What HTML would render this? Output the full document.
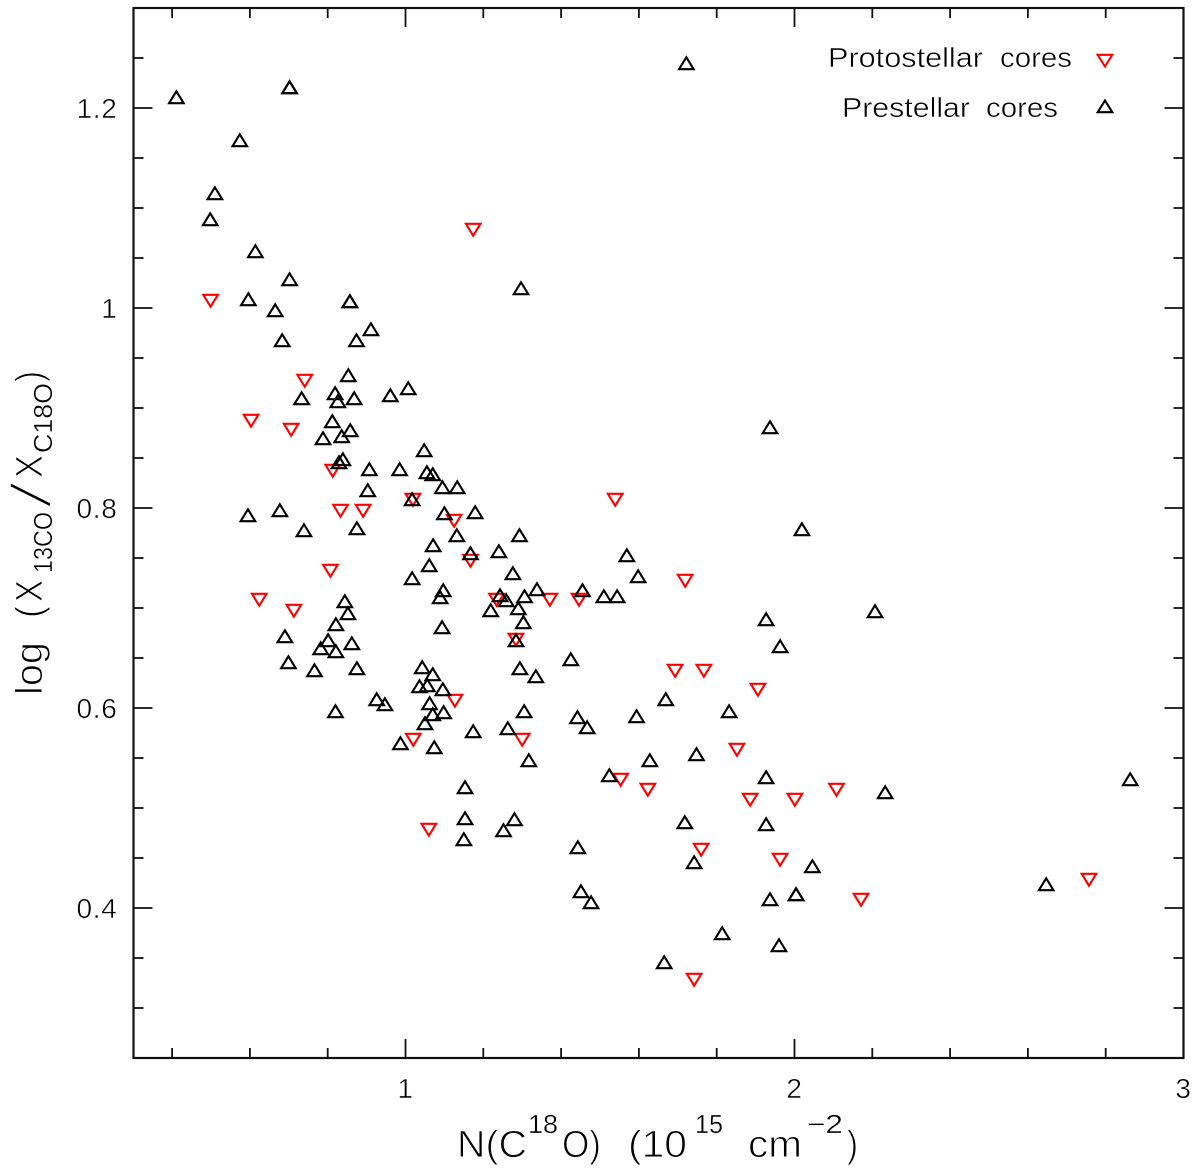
<!DOCTYPE html>
<html lang="en">
<head>
<meta charset="utf-8">
<title>log (X13CO/XC18O) versus N(C18O)</title>
<style>
html,body{margin:0;padding:0;background:#fff;}
svg{display:block;}
text{font-family:"Liberation Sans",sans-serif;fill:#000;stroke:#fff;stroke-width:.5px;paint-order:fill stroke;}
.big text{stroke-width:.95px;}
.big text.small{stroke-width:.35px;}
</style>
</head>
<body>
<svg id="chart" xmlns="http://www.w3.org/2000/svg" width="1200" height="1173" viewBox="0 0 1200 1173">
  <rect x="0" y="0" width="1200" height="1173" fill="#fff"/>
  <g id="ticks"></g>
  <g id="tick-labels"></g>
  <rect x="133.5" y="8" width="1050" height="1050" fill="none" stroke="#111" stroke-width="2.2"/>
  <g id="marks-pro"></g>
  <g id="marks-pre"></g>

  <g class="big" font-size="38">
    <text x="457" y="1157" textLength="70" lengthAdjust="spacingAndGlyphs">N(C</text>
    <text class="small" x="528" y="1133" font-size="26" textLength="30" lengthAdjust="spacingAndGlyphs">18</text>
    <text x="562" y="1157" textLength="39" lengthAdjust="spacingAndGlyphs">O)</text>
    <text x="628" y="1157" textLength="59" lengthAdjust="spacingAndGlyphs">(10</text>
    <text class="small" x="695" y="1133" font-size="26" textLength="28" lengthAdjust="spacingAndGlyphs">15</text>
    <text x="748" y="1157" textLength="54" lengthAdjust="spacingAndGlyphs">cm</text>
    <text class="small" x="807" y="1133" font-size="26" textLength="36" lengthAdjust="spacingAndGlyphs">−2</text>
    <text x="847" y="1157" textLength="11" lengthAdjust="spacingAndGlyphs">)</text>
  </g>

  <g class="big" font-size="38" transform="translate(42,0) rotate(-90)">
    <text x="-695" y="0" textLength="53" lengthAdjust="spacingAndGlyphs">log</text>
    <text x="-618" y="0" textLength="12" lengthAdjust="spacingAndGlyphs">(</text>
    <text x="-602" y="0" textLength="22" lengthAdjust="spacingAndGlyphs">X</text>
    <text class="small" x="-573" y="10" font-size="26" textLength="61" lengthAdjust="spacingAndGlyphs">13CO</text>
    <text font-size="55" style="stroke-width:1.3px" transform="translate(-507,8) skewX(-13)">/</text>
    <text x="-478" y="0" textLength="23" lengthAdjust="spacingAndGlyphs">X</text>
    <text class="small" x="-453" y="10" font-size="26" textLength="70" lengthAdjust="spacingAndGlyphs">C18O</text>
    <text x="-382" y="0" textLength="11" lengthAdjust="spacingAndGlyphs">)</text>
  </g>

  <g font-size="28">
    <g>
      <text x="828" y="67" textLength="155" lengthAdjust="spacingAndGlyphs">Protostellar</text>
      <text x="1000" y="67" textLength="72" lengthAdjust="spacingAndGlyphs">cores</text>
      <polygon points="1097.7,54.8 1112.3,54.8 1105,66.5" fill="none" stroke="#f00" stroke-width="2.1"/>
    </g>
    <g>
      <text x="842" y="117" textLength="128" lengthAdjust="spacingAndGlyphs">Prestellar</text>
      <text x="986" y="117" textLength="72" lengthAdjust="spacingAndGlyphs">cores</text>
      <polygon points="1097.7,112.2 1112.3,112.2 1105,100.5" fill="none" stroke="#000" stroke-width="2.1"/>
    </g>
  </g>
</svg>
<script>
var xTickValues = [0.4,0.6,0.8,1,1.2,1.4,1.6,1.8,2,2.2,2.4,2.6,2.8,3];
var xTickLabels = [1,2,3];
var yTickValues = [0.3,0.35,0.4,0.45,0.5,0.55,0.6,0.65,0.7,0.75,0.8,0.85,0.9,0.95,1,1.05,1.1,1.15,1.2,1.25];
var yTickLabels = ["0.4","0.6","0.8","1","1.2"];

var prestellarX = [
0.411,0.702,0.702,0.574,0.51,0.498,0.614,0.702,0.596,0.857,0.857,0.665,0.911,0.683,0.874,0.853,1.297,
0.733,0.819,0.826,0.868,0.961,1.007,0.812,0.858,0.836,0.788,1.048,0.839,0.829,0.907,0.985,1.055,1.07,1.095,1.133,0.903,1.017,
0.677,0.595,1.1,1.179,0.739,0.875,1.132,1.293,1.071,1.167,1.24,1.061,1.276,1.017,1.097,1.089,1.338,1.306,1.243,1.259,1.29,1.219,1.303,1.094,1.284,
0.844,0.852,0.821,0.69,0.801,0.782,0.821,0.862,0.699,0.766,0.875,1.043,1.07,1.036,1.056,1.096,0.926,0.947,1.062,0.82,1.07,1.098,1.05,1.305,1.174,1.263,0.987,1.074,1.317,1.153,1.153,1.28,1.252,1.15,
1.569,1.598,1.455,1.51,1.544,1.425,1.294,1.335,1.927,1.669,1.832,1.594,1.442,1.467,1.628,1.748,1.524,1.927,
1.722,1.937,2.019,2.207,1.963,2.233,2.863,2.647,1.718,1.742,1.927,2.046,2.004,2.004,1.937,1.814,1.96,1.665,1.443,1.451,1.477
];
var prestellarY = [
1.21,1.22,1.22,1.167,1.114,1.088,1.056,1.028,1.008,1.006,1.006,0.997,0.978,0.967,0.967,0.932,1.019,
0.909,0.914,0.906,0.909,0.912,0.919,0.886,0.877,0.871,0.869,0.857,0.848,0.845,0.838,0.838,0.835,0.833,0.82,0.82,0.817,0.808,
0.797,0.792,0.794,0.795,0.777,0.779,0.772,0.772,0.762,0.754,0.756,0.742,0.734,0.729,0.717,0.71,0.718,0.711,0.712,0.707,0.699,0.697,0.685,0.68,0.667,
0.706,0.694,0.683,0.671,0.667,0.659,0.656,0.664,0.645,0.637,0.639,0.64,0.633,0.621,0.622,0.618,0.608,0.603,0.604,0.596,0.593,0.595,0.584,0.596,0.576,0.579,0.564,0.56,0.547,0.52,0.489,0.488,0.477,0.468,
0.752,0.731,0.717,0.711,0.711,0.648,0.639,0.631,0.688,0.608,0.596,0.591,0.59,0.58,0.547,0.553,0.532,0.53,
1.244,0.88,0.778,0.696,0.661,0.515,0.528,0.423,0.485,0.445,0.483,0.441,0.413,0.413,0.408,0.374,0.362,0.345,0.46,0.416,0.405
];

var protostellarX = [
1.174,0.499,0.741,0.706,0.603,0.813,1.019,0.833,0.891,1.125,1.167,0.807,0.713,0.624,1.539,1.719,
1.234,1.371,1.446,1.284,1.693,1.767,1.906,1.127,1.3,1.02,1.852,1.553,1.623,1.886,2.001,2.108,
1.963,1.76,1.06,2.171,2.757,1.742
];
var protostellarY = [
1.079,1.008,0.928,0.879,0.888,0.838,0.809,0.798,0.798,0.788,0.748,0.738,0.698,0.709,0.809,0.728,
0.709,0.709,0.709,0.669,0.638,0.638,0.619,0.608,0.569,0.569,0.559,0.529,0.519,0.509,0.509,0.519,
0.449,0.459,0.479,0.409,0.429,0.329
];

var SVGNS = "http://www.w3.org/2000/svg";
function xScale(v){ return 405.5 + (v - 1) * 389; }
function yScale(v){ return 108 + (1.2 - v) * 1000; }

function tickLine(parent, x1, y1, x2, y2){
  var l = document.createElementNS(SVGNS, "line");
  
  
  l.setAttribute("x1", x1); l.setAttribute("y1", y1);
  l.setAttribute("x2", x2); l.setAttribute("y2", y2);
  l.setAttribute("stroke", "#111");
  l.setAttribute("stroke-width", "1.8");
  parent.appendChild(l);
}
function tickText(parent, str, x, y, anchor){
  var t = document.createElementNS(SVGNS, "text");
  
  
  t.setAttribute("x", x); t.setAttribute("y", y);
  t.setAttribute("text-anchor", anchor);
  t.setAttribute("font-size", "28");
  t.setAttribute("letter-spacing", "0.7");
  t.textContent = str;
  parent.appendChild(t);
}
function marker(parent, vx, vy, up, color, name){
  var cx = xScale(vx), cy = yScale(vy), s = up ? 1 : -1;
  var p = document.createElementNS(SVGNS, "polygon");
  
  
  p.setAttribute("points",
    (cx - 7.3) + "," + (cy + 5.2 * s) + " " +
    (cx + 7.3) + "," + (cy + 5.2 * s) + " " +
    cx + "," + (cy - 6.7 * s));
  p.setAttribute("fill", "none");
  p.setAttribute("stroke", color);
  p.setAttribute("stroke-width", "2.1");
  parent.appendChild(p);
}

var ticksG = document.getElementById("ticks");
var labelsG = document.getElementById("tick-labels");

xTickValues.forEach(function(v){
  var major = Math.abs(v - Math.round(v)) < 1e-6;
  var len = major ? 19 : 10;
  var x = xScale(v);
  tickLine(ticksG, x, 1058, x, 1058 - len);
  tickLine(ticksG, x, 8, x, 8 + len);
});
yTickValues.forEach(function(v){
  var major = Math.abs(v * 5 - Math.round(v * 5)) < 1e-6;
  var len = major ? 19 : 10;
  var y = yScale(v);
  tickLine(ticksG, 133.5, y, 133.5 + len, y);
  tickLine(ticksG, 1183.5, y, 1183.5 - len, y);
});
xTickLabels.forEach(function(v){
  tickText(labelsG, String(v), xScale(v), 1098, "middle");
});
yTickLabels.forEach(function(s){
  tickText(labelsG, s, 117.5, yScale(parseFloat(s)) + 10, "end");
});

var preG = document.getElementById("marks-pre");
var proG = document.getElementById("marks-pro");
protostellarX.forEach(function(v, i){
  marker(proG, v, protostellarY[i], false, "#f00", "protostellar-core-point");
});
prestellarX.forEach(function(v, i){
  marker(preG, v, prestellarY[i], true, "#000", "prestellar-core-point");
});
</script>
</body>
</html>
